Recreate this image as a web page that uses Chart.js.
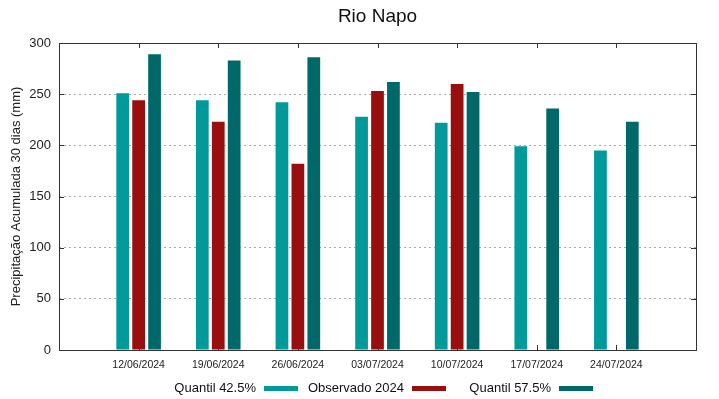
<!DOCTYPE html>
<html>
<head>
<meta charset="utf-8">
<title>Rio Napo</title>
<script src="https://cdn.jsdelivr.net/npm/chart.js@4.4.1/dist/chart.umd.min.js"></script>
<style>
  body { margin: 0; background: #fff; }
</style>
</head>
<body>
<canvas id="grafico" width="719" height="399"></canvas>
<script>
// dados
const datas = ['12/06/2024', '19/06/2024', '26/06/2024', '03/07/2024', '10/07/2024', '17/07/2024', '24/07/2024'];
const quantil425 = [251, 244, 242, 228, 222, 199, 195];
const observado2024 = [244, 223, 182, 253, 260, null, null];
const quantil575 = [289, 283, 286, 262, 252, 236, 223];
const nomesSeries = ['Quantil 42.5%', 'Observado 2024', 'Quantil 57.5%'];
const coresSeries = ['#009a9a', '#990e0e', '#006868'];

const FONTE = '"Liberation Sans", Arial, sans-serif';

function pontos(valores) {
  return valores.map((v, i) => ({ x: i, y: v }));
}

// moldura + tracinhos estilo gnuplot
const moldura = {
  id: 'moldura',
  beforeDatasetsDraw(chart) {
    const ctx = chart.ctx;
    const a = chart.chartArea;
    const sx = chart.scales.x;
    const sy = chart.scales.y;
    ctx.save();
    ctx.strokeStyle = '#333';
    ctx.lineWidth = 1;
    ctx.beginPath();
    for (let i = 0; i < datas.length; i++) {
      const px = Math.round(sx.getPixelForValue(i)) + 0.5;
      ctx.moveTo(px, a.top); ctx.lineTo(px, a.top + 5);
      ctx.moveTo(px, a.bottom); ctx.lineTo(px, a.bottom - 5);
    }
    for (let v = 50; v < 300; v += 50) {
      const py = Math.round(sy.getPixelForValue(v)) + 0.5;
      ctx.moveTo(a.left, py); ctx.lineTo(a.left + 5, py);
      ctx.moveTo(a.right, py); ctx.lineTo(a.right - 5, py);
    }
    ctx.stroke();
    ctx.restore();
  },
  afterDraw(chart) {
    const ctx = chart.ctx;
    const a = chart.chartArea;
    ctx.save();
    ctx.strokeStyle = '#333';
    ctx.lineWidth = 1;
    ctx.strokeRect(Math.round(a.left) + 0.5, Math.round(a.top) + 0.5,
      Math.round(a.right - a.left), Math.round(a.bottom - a.top));

    // legenda: texto e depois a amostra de cor
    const caixasX = [264, 412, 559];
    ctx.font = '13px ' + FONTE;
    ctx.textAlign = 'right';
    ctx.textBaseline = 'middle';
    chart.data.datasets.forEach((ds, i) => {
      ctx.fillStyle = '#111';
      ctx.fillText(ds.label, caixasX[i] - 8, 388);
      ctx.fillStyle = ds.backgroundColor;
      ctx.fillRect(caixasX[i], 386, 34, 5);
    });
    ctx.restore();
  }
};

const ctx = document.getElementById('grafico').getContext('2d');
new Chart(ctx, {
  type: 'bar',
  data: {
    datasets: [
      { label: nomesSeries[0], data: pontos(quantil425), backgroundColor: coresSeries[0] },
      { label: nomesSeries[1], data: pontos(observado2024), backgroundColor: coresSeries[1] },
      { label: nomesSeries[2], data: pontos(quantil575), backgroundColor: coresSeries[2] }
    ]
  },
  options: {
    responsive: false,
    animation: false,
    categoryPercentage: 0.6,
    barPercentage: 0.8,
    layout: { padding: { left: 0, right: 23, top: 0, bottom: 0 } },
    scales: {
      x: {
        type: 'linear',
        min: -1,
        max: 7,
        offset: false,
        grid: { display: false, offset: false, drawTicks: false },
        border: { display: false },
        ticks: {
          stepSize: 1,
          autoSkip: false,
          maxRotation: 0,
          padding: 9,
          color: '#222',
          font: { family: FONTE, size: 10.5 },
          callback: function(v) { return datas[v] || ''; }
        },
        afterFit: function(s) { s.height = 49; }
      },
      y: {
        min: 0,
        max: 300,
        grid: { color: '#aaa', drawTicks: false },
        border: { display: false, dash: [2, 3] },
        ticks: {
          stepSize: 50,
          padding: 8,
          color: '#222',
          font: { family: FONTE, size: 13 }
        },
        title: {
          display: true,
          text: 'Precipitação Acumulada 30 dias (mm)',
          color: '#222',
          font: { family: FONTE, size: 13 },
          padding: { top: 9, bottom: 0 }
        },
        afterFit: function(s) { s.width = 59; }
      }
    },
    plugins: {
      legend: { display: false },
      tooltip: { enabled: false },
      title: {
        display: true,
        fullSize: false,
        text: 'Rio Napo',
        color: '#111',
        font: { family: FONTE, size: 19, weight: 'normal' },
        padding: { top: 5, bottom: 15.2 }
      }
    }
  },
  plugins: [moldura]
});
</script>
</body>
</html>
